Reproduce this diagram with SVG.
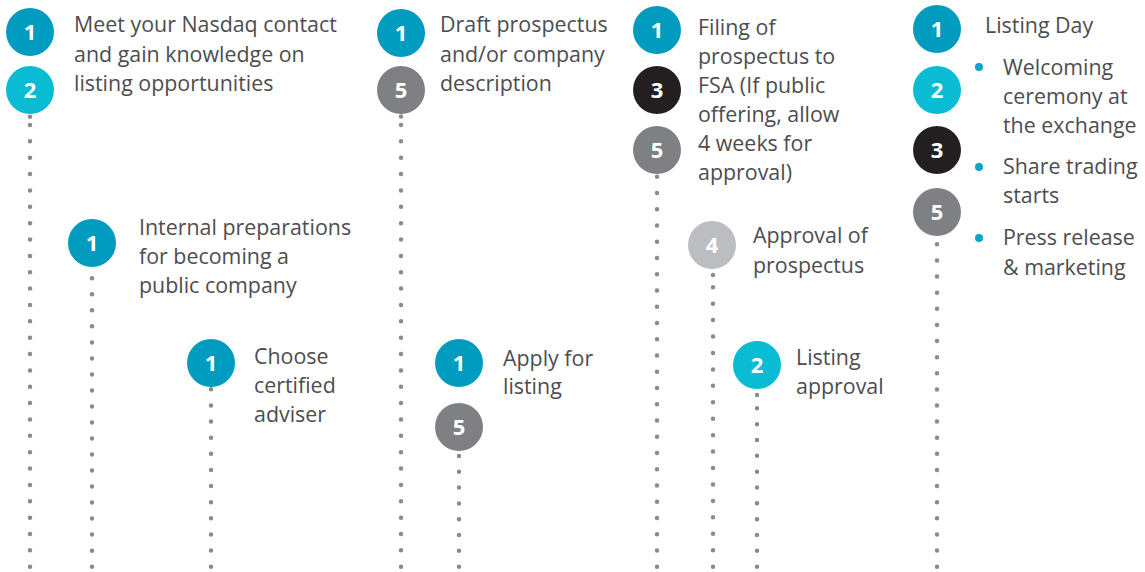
<svg xmlns="http://www.w3.org/2000/svg" width="1145" height="572" viewBox="0 0 1145 572">
<style>
.c1{fill:#009cc0}.c2{fill:#0abbd4}.c3{fill:#231f20}.c4{fill:#bcbdc0}.c5{fill:#7f8084}
.n{font-family:"Open Sans","Liberation Sans",sans-serif;font-weight:bold;font-size:22px;fill:#fff;text-anchor:middle}
.t{font-family:"Open Sans","Liberation Sans",sans-serif;font-size:21.4px;fill:#4d4d4f}
.d{stroke:#8b8b8e;stroke-width:4.5;stroke-linecap:round;fill:none}
.b{fill:#0aa5c8}
</style>
<rect width="1145" height="572" fill="#fff"/>
<g id="connectors">
<line class="d" x1="30" y1="125" x2="30" y2="567" stroke-dasharray="0 16.36"/>
<circle cx="30" cy="116.7" r="2.2" fill="#8b8b8e"/>
<line class="d" x1="92" y1="278.3" x2="92" y2="567" stroke-dasharray="0 16.02"/>
<line class="d" x1="211" y1="389.3" x2="211" y2="567" stroke-dasharray="0 16.13"/>
<line class="d" x1="401" y1="125" x2="401" y2="567" stroke-dasharray="0 16.36"/>
<circle cx="401" cy="116.5" r="2.2" fill="#8b8b8e"/>
<line class="d" x1="459" y1="456" x2="459" y2="567" stroke-dasharray="0 15.81"/>
<line class="d" x1="657" y1="176.7" x2="657" y2="567" stroke-dasharray="0 16.25"/>
<line class="d" x1="713" y1="287.2" x2="713" y2="567" stroke-dasharray="0 16.44"/>
<circle cx="713" cy="275" r="2.2" fill="#8b8b8e"/>
<line class="d" x1="757" y1="408.3" x2="757" y2="567" stroke-dasharray="0 15.84"/>
<circle cx="757" cy="395" r="2.2" fill="#8b8b8e"/>
<line class="d" x1="937" y1="244.3" x2="937" y2="567" stroke-dasharray="0 16.12"/>
</g>
<g id="step-meet">
<circle class="c1" cx="30" cy="32" r="24"/><text class="n" x="30" y="40">1</text>
<circle class="c2" cx="30" cy="90" r="24"/><text class="n" x="30" y="98">2</text>
<text class="t" x="74" y="32">Meet your Nasdaq contact</text>
<text class="t" x="74" y="62">and gain knowledge on</text>
<text class="t" x="74" y="91">listing opportunities</text>
</g>
<g id="step-internal">
<circle class="c1" cx="92" cy="243" r="24"/><text class="n" x="92" y="251">1</text>
<text class="t" x="139" y="235">Internal preparations</text>
<text class="t" x="139" y="264">for becoming a</text>
<text class="t" x="139" y="293">public company</text>
</g>
<g id="step-adviser">
<circle class="c1" cx="211" cy="363" r="24"/><text class="n" x="211" y="371">1</text>
<text class="t" x="254" y="364">Choose</text>
<text class="t" x="254" y="393">certified</text>
<text class="t" x="254" y="422">adviser</text>
</g>
<g id="step-draft">
<circle class="c1" cx="401" cy="33" r="24"/><text class="n" x="401" y="41">1</text>
<circle class="c5" cx="401" cy="90" r="24"/><text class="n" x="401" y="98">5</text>
<text class="t" x="440" y="32">Draft prospectus</text>
<text class="t" x="440" y="62">and/or company</text>
<text class="t" x="440" y="91">description</text>
</g>
<g id="step-apply">
<circle class="c1" cx="459" cy="363" r="24"/><text class="n" x="459" y="371">1</text>
<circle class="c5" cx="459" cy="427" r="24"/><text class="n" x="459" y="435">5</text>
<text class="t" x="503" y="366">Apply for</text>
<text class="t" x="503" y="394">listing</text>
</g>
<g id="step-filing">
<circle class="c1" cx="657" cy="30" r="24"/><text class="n" x="657" y="38">1</text>
<circle class="c3" cx="657" cy="90" r="24"/><text class="n" x="657" y="98">3</text>
<circle class="c5" cx="657" cy="150" r="24"/><text class="n" x="657" y="158">5</text>
<text class="t" x="698" y="35">Filing of</text>
<text class="t" x="698" y="64">prospectus to</text>
<text class="t" x="698" y="93">FSA (If public</text>
<text class="t" x="698" y="122">offering, allow</text>
<text class="t" x="698" y="151">4 weeks for</text>
<text class="t" x="698" y="180">approval)</text>
</g>
<g id="step-approval">
<circle class="c4" cx="712" cy="245" r="24"/><text class="n" x="712" y="253">4</text>
<text class="t" x="753" y="243">Approval of</text>
<text class="t" x="753" y="273">prospectus</text>
</g>
<g id="step-listing-approval">
<circle class="c2" cx="757" cy="365" r="24"/><text class="n" x="757" y="373">2</text>
<text class="t" x="796" y="365">Listing</text>
<text class="t" x="796" y="394">approval</text>
</g>
<g id="step-listing-day">
<circle class="c1" cx="937" cy="29" r="24"/><text class="n" x="937" y="37">1</text>
<circle class="c2" cx="937" cy="90" r="24"/><text class="n" x="937" y="98">2</text>
<circle class="c3" cx="937" cy="150" r="24"/><text class="n" x="937" y="158">3</text>
<circle class="c5" cx="937" cy="212" r="24"/><text class="n" x="937" y="220">5</text>
<text class="t" x="985" y="33">Listing Day</text>
<circle class="b" cx="979" cy="67" r="4"/>
<circle class="b" cx="979" cy="167" r="4"/>
<circle class="b" cx="979" cy="238" r="4"/>
<text class="t" x="1003" y="75">Welcoming</text>
<text class="t" x="1003" y="104">ceremony at</text>
<text class="t" x="1003" y="133">the exchange</text>
<text class="t" x="1003" y="174">Share trading</text>
<text class="t" x="1003" y="203">starts</text>
<text class="t" x="1003" y="245">Press release</text>
<text class="t" x="1003" y="275">&amp; marketing</text>
</g>
</svg>
